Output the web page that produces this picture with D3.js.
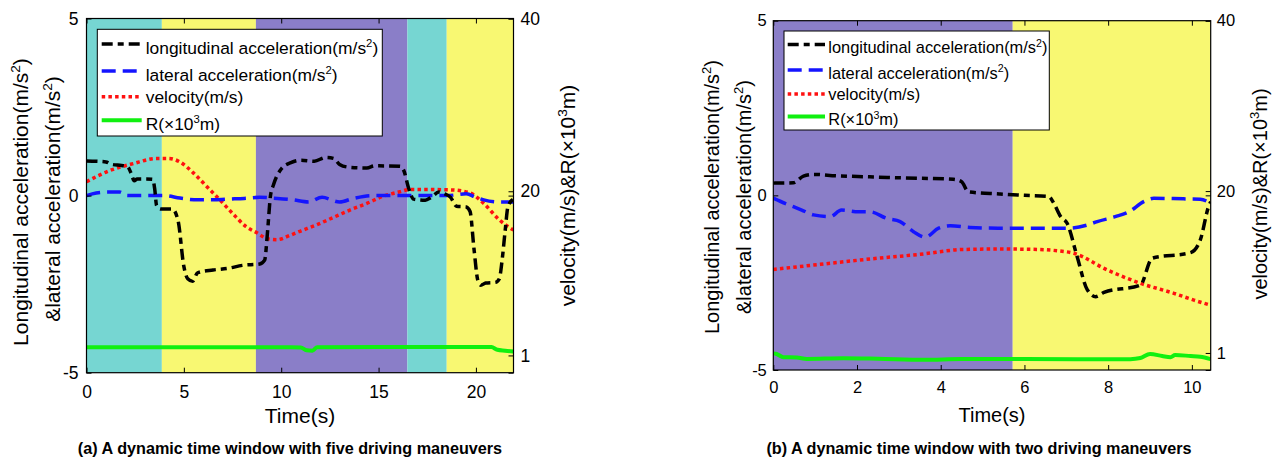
<!DOCTYPE html>
<html><head><meta charset="utf-8">
<script src="https://cdn.jsdelivr.net/npm/d3@7/dist/d3.min.js"></script>
<style>
body{margin:0;background:#fff;}
svg{display:block;font-family:"Liberation Sans",Arial,sans-serif;}
</style></head><body>
<svg id="chart" width="1278" height="461"></svg>
<script>
// ---------------- DATA ----------------
// maneuver bands (time edges) and kind of each band
const bandEdgesA = [0, 3.87, 8.7, 16.48, 18.5, 21.93];
const bandKindsA = ["c", "y", "p", "c", "y"];
const bandEdgesB = [0, 5.72, 10.45];
const bandKindsB = ["p", "y"];

// panel (a) series: [time(s), value]
const longAccA = [[0,0.98],[0.5,0.97],[1.0,0.95],[1.3,0.88],[1.8,0.85],[2.1,0.82],[2.3,0.62],[2.45,0.42],[2.6,0.47],[3.0,0.47],[3.4,0.46],[3.5,0.2],[3.6,-0.28],[3.8,-0.38],[4.4,-0.38],[4.7,-0.7],[5.0,-2.0],[5.2,-2.35],[5.45,-2.42],[5.7,-2.18],[6.5,-2.1],[7.3,-2.05],[8.0,-1.97],[8.9,-1.93],[9.15,-1.82],[9.3,-1.0],[9.45,0.0],[9.6,0.3],[10.0,0.75],[10.5,0.93],[11.0,1.0],[11.7,0.97],[12.3,1.08],[12.7,1.05],[13.0,0.88],[13.5,0.8],[14.4,0.78],[14.8,0.84],[16.1,0.83],[16.3,0.7],[16.55,0.2],[16.8,-0.1],[17.4,-0.13],[17.7,-0.05],[18.1,0.1],[18.4,0.05],[18.7,-0.05],[19.0,-0.3],[19.5,-0.32],[19.7,-0.45],[19.9,-1.5],[20.1,-2.4],[20.25,-2.53],[20.5,-2.47],[21.0,-2.45],[21.2,-2.35],[21.35,-1.8],[21.5,-1.0],[21.65,-0.3],[21.93,-0.1]];
const latAccA = [[0,0.0],[0.3,0.05],[1.0,0.1],[1.7,0.1],[2.1,0.0],[3.0,0.0],[4.0,0.0],[4.8,-0.07],[5.7,-0.12],[6.5,-0.12],[7.2,-0.1],[8.1,-0.08],[8.9,-0.05],[9.8,-0.08],[10.6,-0.12],[11.4,-0.18],[12.1,-0.05],[13.0,-0.18],[13.7,-0.08],[14.7,0.0],[16.0,0.0],[17.0,0.0],[18.5,0.0],[19.5,0.05],[20.0,-0.05],[20.4,-0.12],[21.2,-0.18],[21.93,-0.18]];
const velocityA = [[0,21.1],[1.2,22.4],[2.4,23.2],[3.6,23.8],[4.2,23.8],[4.8,23.4],[5.5,22.1],[6.2,20.5],[6.85,19.0],[7.5,17.45],[8.2,15.9],[8.75,15.2],[9.3,14.5],[9.8,14.4],[10.45,14.9],[11.0,15.4],[11.8,16.1],[12.7,17.0],[13.5,17.8],[14.4,18.6],[15.2,19.4],[16.1,19.95],[16.6,20.2],[17.8,20.2],[18.8,20.15],[19.7,19.8],[20.4,18.6],[21.2,16.7],[21.93,15.5]];
const radiusA = [[0,1.95],[5,1.95],[10,1.95],[11.0,1.93],[11.3,1.6],[11.6,1.55],[11.85,1.95],[15,1.98],[20.8,1.97],[21.1,1.65],[21.5,1.55],[21.93,1.45]];

// panel (b) series
const longAccB = [[0,0.35],[0.48,0.36],[0.72,0.55],[0.96,0.6],[1.5,0.56],[2.3,0.53],[3.1,0.5],[4.3,0.46],[4.5,0.39],[4.66,0.1],[5.4,0.04],[6.0,0.0],[6.58,-0.03],[6.7,-0.22],[6.86,-0.6],[7.02,-0.8],[7.26,-1.76],[7.5,-2.7],[7.7,-2.9],[7.9,-2.78],[8.77,-2.57],[9.05,-1.8],[9.97,-1.64],[10.2,-1.28],[10.4,-0.32],[10.45,-0.18]];
const latAccB = [[0,-0.08],[0.28,-0.23],[0.68,-0.42],[0.96,-0.56],[1.36,-0.61],[1.63,-0.42],[2.03,-0.47],[2.31,-0.47],[2.71,-0.66],[3.03,-0.75],[3.35,-1.04],[3.63,-1.2],[3.95,-0.94],[4.23,-0.87],[4.7,-0.92],[5.42,-0.94],[7.05,-0.94],[7.5,-0.85],[7.74,-0.75],[8.17,-0.61],[8.5,-0.47],[8.85,-0.18],[9.09,-0.085],[9.8,-0.1],[10.2,-0.11],[10.45,-0.23]];
const velocityB = [[0,10.8],[1.12,11.4],[2.31,12.03],[3.51,12.58],[4.55,13.15],[5.4,13.2],[6.3,13.15],[6.78,13.0],[7.18,12.7],[7.98,10.74],[8.77,9.18],[9.57,8.0],[10.05,7.2],[10.45,6.6]];
const radiusB = [[0,0.95],[0.08,0.88],[0.24,0.5],[0.56,0.47],[0.8,0.3],[1.67,0.38],[2.5,0.32],[3.6,0.2],[4.5,0.28],[6,0.28],[8.53,0.27],[8.77,0.4],[9.0,0.88],[9.29,0.64],[9.49,0.5],[9.6,0.76],[9.97,0.64],[10.2,0.56],[10.45,0.27]];

// ticks and labels
const xTicksA = [0, 5, 10, 15, 20];
const xTicksB = [0, 2, 4, 6, 8, 10];
const leftTicks = [-5, 0, 5];
const rightTicks = [1, 20, 40];
const legendLabels = [["longitudinal acceleration(m/s","2",")"],["lateral acceleration(m/s","2",")"],["velocity(m/s)","",""],["R(\u00d710","3","m)"]];
const xLabel = "Time(s)";
const yLabel1 = ["Longitudinal acceleration(m/s","2",")"];
const yLabel2 = ["&lateral acceleration(m/s","2",")"];
const yLabelR = ["velocity(m/s)&R(\u00d710","3","m)"];
const captionA = "(a) A dynamic time window with five driving maneuvers";
const captionB = "(b) A dynamic time window with two driving maneuvers";

// ---------------- STYLE / LAYOUT ----------------
const bandColor = {c:"#76d6d2", y:"#f8f872", p:"#8a7ec8"};
const seriesStyle = [
  {color:"#000000", width:3.5, dash:"11,5,6,5"},
  {color:"#1414ff", width:3.5, dash:"14,7"},
  {color:"#ff1010", width:3.5, dash:"3.5,3.2"},
  {color:"#10f010", width:4, dash:null}
];
const svg = d3.select("#chart");

function supText(t, parts, fs){
  t.append("tspan").text(parts[0]);
  if(parts[1]){
    t.append("tspan").attr("font-size", fs*0.65).attr("dy", -fs*0.4).text(parts[1]);
    t.append("tspan").attr("dy", fs*0.4).text(parts[2]);
  }
}

function drawPanel(cfg){
  const g = svg.append("g");
  const x = d3.scaleLinear().domain(cfg.xDomain).range([cfg.L, cfg.R]);
  const yL = d3.scaleLinear().domain([-5, 5]).range([cfg.B, cfg.T]);
  const yR = d3.scaleLinear().domain([-1, 40]).range([cfg.B, cfg.T]);
  const clipId = "clip" + cfg.id;
  svg.append("clipPath").attr("id", clipId).append("rect")
    .attr("x", cfg.L).attr("y", cfg.T).attr("width", cfg.R - cfg.L).attr("height", cfg.B - cfg.T);

  // bands
  const bands = cfg.kinds.map((k,i)=>({k, a:cfg.edges[i], b:cfg.edges[i+1]}));
  g.append("g").selectAll("rect").data(bands).join("rect")
    .attr("x", d=>x(d.a)).attr("width", d=>x(d.b)-x(d.a))
    .attr("y", cfg.T).attr("height", cfg.B-cfg.T)
    .attr("fill", d=>bandColor[d.k]);

  // lines
  const lines = g.append("g").attr("clip-path", `url(#${clipId})`);
  const series = [
    {data:cfg.lon, y:yL, s:seriesStyle[0]},
    {data:cfg.lat, y:yL, s:seriesStyle[1]},
    {data:cfg.vel, y:yR, s:seriesStyle[2]},
    {data:cfg.rad, y:yR, s:seriesStyle[3]}
  ];
  [3,2,1,0].forEach(i=>{
    const sr = series[i];
    const ln = d3.line().x(d=>x(d[0])).y(d=>sr.y(d[1])).curve(d3.curveMonotoneX);
    lines.append("path").datum(sr.data).attr("d", ln)
      .attr("fill","none").attr("stroke", sr.s.color).attr("stroke-width", sr.s.width)
      .attr("stroke-dasharray", sr.s.dash).attr("stroke-linejoin","round");
  });

  // axes
  const tickLen = 5;
  const ax = g.append("g");
  const xb = ax.append("g").attr("transform", `translate(0,${cfg.B})`)
    .call(d3.axisBottom(x).tickValues(cfg.xTicks).tickSize(-tickLen).tickPadding(cfg.xPad).tickFormat(d3.format("d")));
  const xt = ax.append("g").attr("transform", `translate(0,${cfg.T})`)
    .call(d3.axisTop(x).tickValues(cfg.xTicks).tickSize(-tickLen).tickFormat(""));
  const yl = ax.append("g").attr("transform", `translate(${cfg.L},0)`)
    .call(d3.axisLeft(yL).tickValues(leftTicks).tickSize(-tickLen).tickPadding(cfg.lPad).tickFormat(d=>d<0?"-"+Math.abs(d):String(d)));
  const ylr = ax.append("g").attr("transform", `translate(${cfg.R},0)`)
    .call(d3.axisRight(yL).tickValues(leftTicks).tickSize(-tickLen).tickFormat(""));
  const yr = ax.append("g").attr("transform", `translate(${cfg.R},0)`)
    .call(d3.axisRight(yR).tickValues(rightTicks).tickSize(-tickLen).tickPadding(cfg.rPad));
  [xb,xt,yl,ylr,yr].forEach(a=>{
    a.select(".domain").remove();
    a.selectAll("line").attr("stroke","#000").attr("stroke-width",1);
    a.selectAll("text").attr("font-size", cfg.tickFs).attr("fill","#000")
      .attr("font-family", '"Liberation Sans",Arial,sans-serif');
  });
  ax.append("rect").attr("x", cfg.L).attr("y", cfg.T).attr("width", cfg.R-cfg.L).attr("height", cfg.B-cfg.T)
    .attr("fill","none").attr("stroke","#000").attr("stroke-width",1.2);

  // axis labels
  g.append("text").attr("x", (cfg.L+cfg.R)/2).attr("y", cfg.xLabY).attr("text-anchor","middle")
    .attr("font-size", cfg.labFs).text(xLabel);
  const t1 = g.append("text").attr("transform", `translate(${cfg.yl1X},${cfg.ylCY1}) rotate(-90)`)
    .attr("text-anchor","middle").attr("font-size", cfg.labFs);
  supText(t1, yLabel1, cfg.labFs);
  const t2 = g.append("text").attr("transform", `translate(${cfg.yl2X},${cfg.ylCY2}) rotate(-90)`)
    .attr("text-anchor","middle").attr("font-size", cfg.labFs);
  supText(t2, yLabel2, cfg.labFs);
  const t3 = g.append("text").attr("transform", `translate(${cfg.yrX},${cfg.yrCY}) rotate(-90)`)
    .attr("text-anchor","middle").attr("font-size", cfg.labFs);
  supText(t3, yLabelR, cfg.labFs);

  // legend
  const lg = g.append("g");
  lg.append("rect").attr("x", cfg.lgX0).attr("y", cfg.lgY0).attr("width", cfg.lgX1-cfg.lgX0).attr("height", cfg.lgY1-cfg.lgY0)
    .attr("fill","#fff").attr("stroke","#000").attr("stroke-width",1);
  let base = cfg.lgBase0;
  legendLabels.forEach((lab,i)=>{
    const hasSup = !!lab[1];
    if(i>0) base += hasSup ? cfg.lgStepSup : cfg.lgStep;
    const ly = base - (hasSup ? cfg.lgOffSup : cfg.lgOff);
    const s = seriesStyle[i];
    lg.append("line").attr("x1", cfg.lgLx0).attr("x2", cfg.lgLx1).attr("y1", ly).attr("y2", ly)
      .attr("stroke", s.color).attr("stroke-width", s.width).attr("stroke-dasharray", s.dash);
    const t = lg.append("text").attr("x", cfg.lgTx).attr("y", base).attr("font-size", cfg.lgFs);
    supText(t, lab, cfg.lgFs);
  });

  // caption
  g.append("text").attr("x", cfg.capX).attr("y", cfg.capY).attr("text-anchor","middle")
    .attr("font-size", 16.2).attr("font-weight","bold").text(cfg.caption);
}

drawPanel({id:"A", L:86.5, R:513.5, T:18.5, B:372.7, xDomain:[0,21.93],
  edges:bandEdgesA, kinds:bandKindsA, lon:longAccA, lat:latAccA, vel:velocityA, rad:radiusA,
  xTicks:xTicksA, xPad:13, lPad:8, rPad:7, tickFs:17.5, labFs:21,
  xLabY:423, yl1X:28, ylCY1:202, yl2X:60, ylCY2:199, yrX:575, yrCY:195.5,
  lgX0:97.3, lgX1:382.3, lgY0:29.3, lgY1:136, lgBase0:54, lgStepSup:27, lgStep:22.3, lgOffSup:10, lgOff:6.6,
  lgLx0:101.7, lgLx1:141.7, lgTx:145.7, lgFs:17.4,
  capX:290, capY:454, caption:captionA});

drawPanel({id:"B", L:773.3, R:1210.7, T:20.7, B:370, xDomain:[0,10.45],
  edges:bandEdgesB, kinds:bandKindsB, lon:longAccB, lat:latAccB, vel:velocityB, rad:radiusB,
  xTicks:xTicksB, xPad:11.5, lPad:6.5, rPad:6, tickFs:16.5, labFs:20,
  xLabY:421.5, yl1X:719, ylCY1:197, yl2X:751, ylCY2:197, yrX:1267, yrCY:194,
  lgX0:784, lgX1:1049.3, lgY0:31, lgY1:130, lgBase0:53.3, lgStepSup:25.4, lgStep:21, lgOffSup:8.7, lgOff:5.7,
  lgLx0:787.7, lgLx1:825, lgTx:828.3, lgFs:16.4,
  capX:979, capY:454, caption:captionB});
</script>
</body></html>
